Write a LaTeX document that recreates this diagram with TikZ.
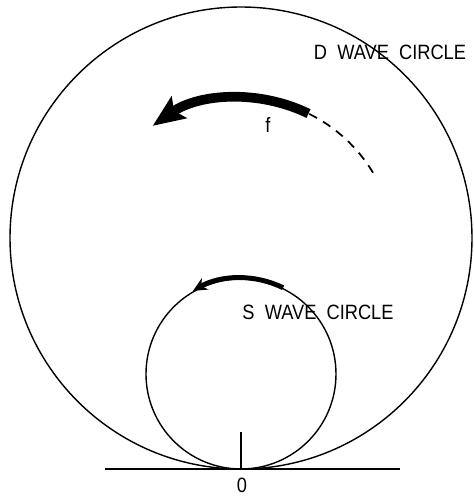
\documentclass[tikz,border=0pt]{standalone}
\usepackage{fontspec}
\setmainfont[FakeStretch=0.88]{Liberation Sans}
\usetikzlibrary{arrows.meta, positioning}

\tikzset{
  wavecircle/.style={line width=0.8pt},
  labeltext/.style={font=\fontsize{11.8}{13}\selectfont, inner sep=0pt},
}

\begin{document}
\begin{tikzpicture}
\useasboundingbox (-4.82,-0.64) rectangle (4.66,9.38);

% Tangent point and axis
\coordinate (O) at (0,0);
\coordinate (baseL) at (-2.72,0);
\coordinate (baseR) at (3.18,0);
\coordinate (tick) at (0,0.74);
\draw[line width=0.7pt] (baseL) -- (baseR);
\draw[line width=0.7pt] (O) -- (tick);
\node[labeltext] (zero) at (0.02,-0.33) {0};

% D wave circle and S wave circle
\draw[wavecircle] (0,4.62) circle (4.62);
\draw[wavecircle] (0,1.90) circle (1.90);

% Rotation arrows
\draw[line width=1pt, dash pattern=on 5pt off 4pt] ([shift={(31:3.08)}]0,4.34) arc (31:64:3.08);
\draw[line width=5.5pt, -{Stealth[length=0.64cm, width=0.52cm, inset=0.12cm]}]
  ([shift={(64:3.08)}]0,4.34) arc (64:125:3.08);
\draw[line width=2.8pt, -{Stealth[length=0.28cm, width=0.26cm]}]
  ([shift={(64:1.92)}]0,1.90) arc (64:120:1.92);

% Labels
\node[labeltext] (dlabel) at (2.98,8.34) {D~~WAVE~~CIRCLE};
\node[labeltext] (slabel) at (1.54,3.14) {S~~WAVE~~CIRCLE};
\node[labeltext] (flabel) at (0.54,6.88) {f};

\end{tikzpicture}
\end{document}
